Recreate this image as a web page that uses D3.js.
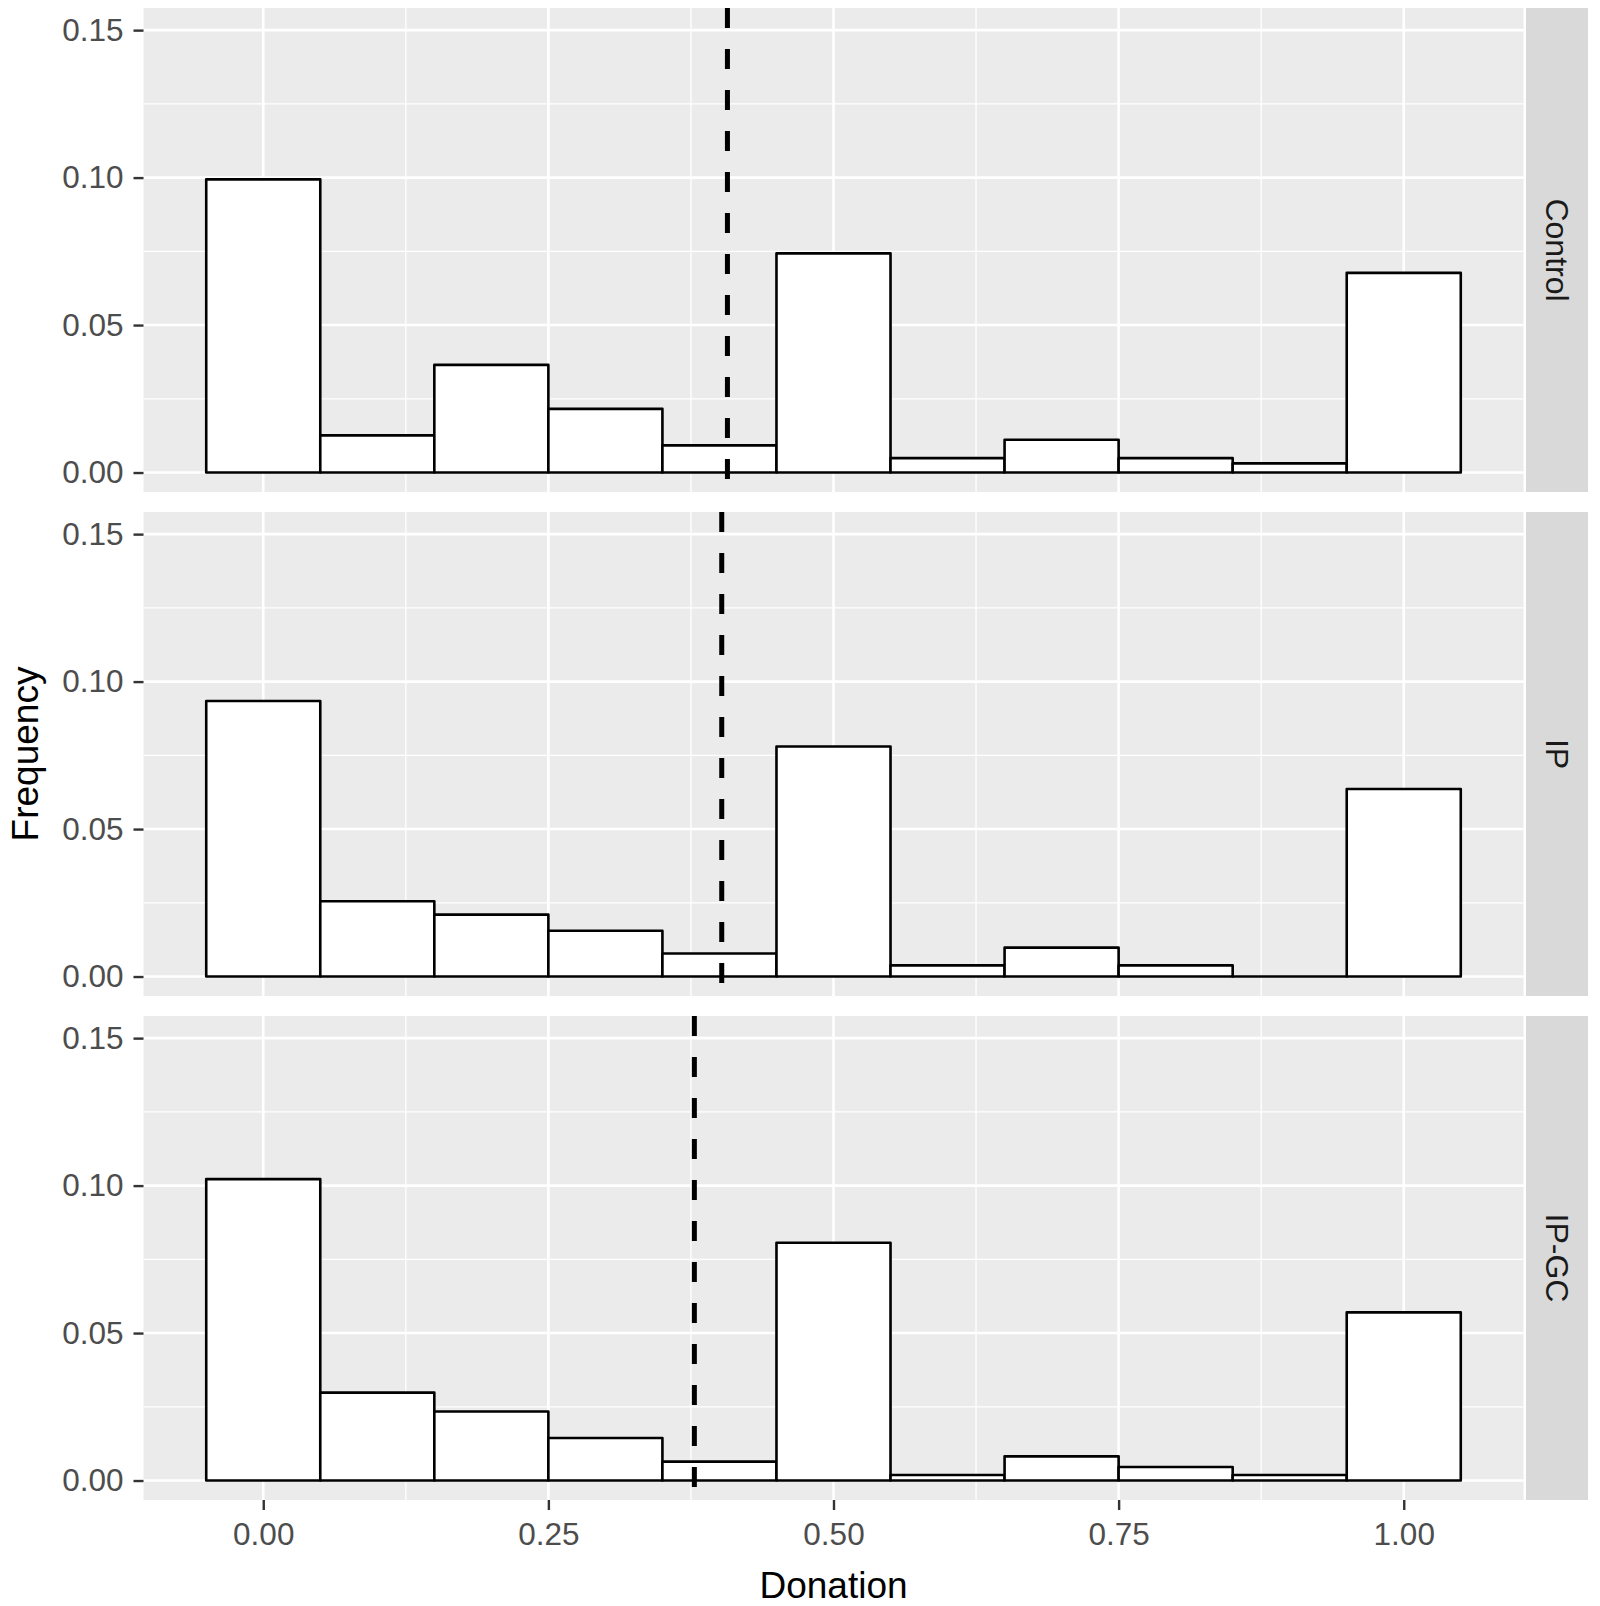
<!DOCTYPE html>
<html>
<head>
<meta charset="utf-8">
<script src="https://cdn.jsdelivr.net/npm/d3@7"></script>
<style>
  html, body { margin: 0; padding: 0; background: #fff; }
  svg { display: block; }
  text { font-family: "Liberation Sans", Arial, sans-serif; }
</style>
</head>
<body>
<script>
// ---- data ----
const groups = ["Control", "IP", "IP-GC"];
const binCenters = [0, 0.1, 0.2, 0.3, 0.4, 0.5, 0.6, 0.7, 0.8, 0.9, 1.0];
const binWidth = 0.1;
const controlFreq = [0.0994, 0.0126, 0.0365, 0.0216, 0.0092, 0.0743, 0.0049, 0.0111, 0.0049, 0.0031, 0.0677];
const ipFreq      = [0.0934, 0.0255, 0.0210, 0.0155, 0.0078, 0.0780, 0.0038, 0.0098, 0.0038, 0.0000, 0.0636];
const ipgcFreq    = [0.1022, 0.0298, 0.0234, 0.0144, 0.0064, 0.0806, 0.0019, 0.0082, 0.0046, 0.0019, 0.0570];
const meanDonation = [0.407, 0.402, 0.378];
const xTicks = [0, 0.25, 0.5, 0.75, 1.0];
const xTickLabels = ["0.00", "0.25", "0.50", "0.75", "1.00"];
const yTicks = [0, 0.05, 0.10, 0.15];
const yTickLabels = ["0.00", "0.05", "0.10", "0.15"];
const xMinor = [0.125, 0.375, 0.625, 0.875];
const yMinor = [0.025, 0.075, 0.125];
const xTitle = "Donation";
const yTitle = "Frequency";

const freqs = [controlFreq, ipFreq, ipgcFreq];

// ---- layout ----
const W = 1600, H = 1606;
const panelLeft = 143.5, panelRight = 1523.5;
const panelTop0 = 8, panelH = 484, panelGap = 20;
const stripX = 1526, stripW = 62;

const svg = d3.select("body").append("svg").attr("width", W).attr("height", H);
svg.append("rect").attr("width", W).attr("height", H).attr("fill", "#fff");

const x = d3.scaleLinear().domain([-0.105, 1.105]).range([panelLeft, panelRight]);

groups.forEach((g, i) => {
  const top = panelTop0 + i * (panelH + panelGap);
  const y = d3.scaleLinear().domain([-0.0066, 0.1575]).range([top + panelH, top]);
  const pg = svg.append("g");

  // panel background
  pg.append("rect").attr("x", panelLeft).attr("y", top)
    .attr("width", panelRight - panelLeft).attr("height", panelH).attr("fill", "#ebebeb");

  // minor grid
  yMinor.forEach(v => pg.append("line").attr("x1", panelLeft).attr("x2", panelRight)
    .attr("y1", y(v)).attr("y2", y(v)).attr("stroke", "#fff").attr("stroke-width", 1.3));
  xMinor.forEach(v => pg.append("line").attr("y1", top).attr("y2", top + panelH)
    .attr("x1", x(v)).attr("x2", x(v)).attr("stroke", "#fff").attr("stroke-width", 1.3));
  // major grid
  yTicks.forEach(v => pg.append("line").attr("x1", panelLeft).attr("x2", panelRight)
    .attr("y1", y(v)).attr("y2", y(v)).attr("stroke", "#fff").attr("stroke-width", 2.6));
  xTicks.forEach(v => pg.append("line").attr("y1", top).attr("y2", top + panelH)
    .attr("x1", x(v)).attr("x2", x(v)).attr("stroke", "#fff").attr("stroke-width", 2.6));

  // bars (drawn as closed paths so zero-height bins still show their outline)
  pg.selectAll("path.bar").data(binCenters.map((c, k) => ({c, f: freqs[i][k]})))
    .enter().append("path").attr("class", "bar")
    .attr("d", d => {
      const x0 = x(d.c - binWidth / 2), x1 = x(d.c + binWidth / 2);
      const y0 = y(0), y1 = y(d.f);
      return `M${x0},${y0}L${x0},${y1}L${x1},${y1}L${x1},${y0}Z`;
    })
    .attr("fill", "#fff").attr("stroke", "#000").attr("stroke-width", 2.6)
    .attr("stroke-linejoin", "round");

  // mean line
  pg.append("line").attr("x1", x(meanDonation[i])).attr("x2", x(meanDonation[i]))
    .attr("y1", top).attr("y2", top + panelH)
    .attr("stroke", "#000").attr("stroke-width", 5)
    .attr("stroke-dasharray", "20,21");

  // y axis
  const yAxis = d3.axisLeft(y).tickValues(yTicks).tickFormat((d, k) => yTickLabels[k])
    .tickSize(10).tickPadding(10);
  const ya = svg.append("g").attr("transform", `translate(${panelLeft},0)`).call(yAxis);
  ya.select(".domain").remove();
  ya.selectAll(".tick line").attr("stroke", "#333").attr("stroke-width", 2.4);
  ya.selectAll(".tick text").attr("fill", "#4d4d4d").style("font-size", "31.5px")
    .style("font-family", "'Liberation Sans', Arial, sans-serif");

  // strip
  svg.append("rect").attr("x", stripX).attr("y", top).attr("width", stripW).attr("height", panelH)
    .attr("fill", "#d9d9d9");
  svg.append("text").attr("transform", `translate(${stripX + stripW / 2},${top + panelH / 2}) rotate(90)`)
    .attr("text-anchor", "middle").attr("dy", "0.35em")
    .attr("fill", "#1a1a1a").style("font-size", "32px").text(g);

  if (i === groups.length - 1) {
    const xAxis = d3.axisBottom(x).tickValues(xTicks).tickFormat((d, k) => xTickLabels[k])
      .tickSize(10).tickPadding(13);
    const xa = svg.append("g").attr("transform", `translate(0,${top + panelH})`).call(xAxis);
    xa.select(".domain").remove();
    xa.selectAll(".tick line").attr("stroke", "#333").attr("stroke-width", 2.4);
    xa.selectAll(".tick text").attr("fill", "#4d4d4d").style("font-size", "31.5px")
      .style("font-family", "'Liberation Sans', Arial, sans-serif");
  }
});

// axis titles
svg.append("text").attr("x", (panelLeft + panelRight) / 2).attr("y", 1598)
  .attr("text-anchor", "middle").attr("fill", "#000").style("font-size", "37px").text(xTitle);
const midY = panelTop0 + (3 * panelH + 2 * panelGap) / 2;
svg.append("text").attr("transform", `translate(38,${midY}) rotate(-90)`)
  .attr("text-anchor", "middle").attr("fill", "#000").style("font-size", "37px").text(yTitle);
</script>
</body>
</html>
